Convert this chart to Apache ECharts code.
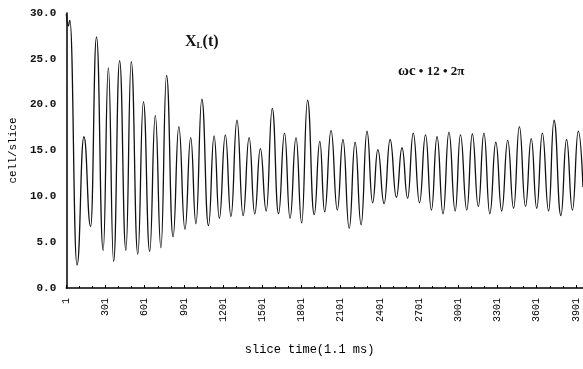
<!DOCTYPE html>
<html>
<head>
<meta charset="utf-8">
<script src="https://cdn.jsdelivr.net/npm/echarts@6/dist/echarts.min.js"></script>
<style>
  html, body { margin: 0; padding: 0; background: #fff; }
  #chart { width: 583px; height: 369px; }
</style>
</head>
<body>
<div id="chart"></div>
<script>
// peaks and troughs: slice number and cell/slice
const sliceTimes = [
  1, 16, 28, 83, 136, 187, 232, 283, 323, 363, 409, 457, 498, 548, 591, 639,
  682, 725, 768, 818, 862, 909, 953, 993, 1038, 1089, 1132, 1172, 1218, 1261,
  1307, 1354, 1400, 1443, 1486, 1531, 1577, 1625, 1671, 1713, 1759, 1802, 1847,
  1898, 1941, 1978, 2027, 2075, 2118, 2166, 2211, 2257, 2302, 2345, 2385, 2433,
  2479, 2527, 2570, 2613, 2656, 2704, 2750, 2795, 2838, 2884, 2929, 2977, 3017,
  3066, 3108, 3154, 3197, 3242, 3288, 3333, 3379, 3424, 3468, 3515, 3559, 3601,
  3644, 3692, 3733, 3786, 3829, 3874, 3919, 3955
];
const cellPerSlice = [
  29.9, 28.6, 29.2, 2.5, 16.5, 6.7, 27.4, 4.1, 24.0, 2.9, 24.8, 4.1, 24.7, 3.7, 20.3, 4.0,
  18.8, 4.4, 23.2, 5.6, 17.6, 6.4, 16.4, 7.0, 20.6, 6.8, 16.6, 7.6, 16.7, 7.8,
  18.3, 7.9, 16.4, 8.1, 15.2, 8.4, 19.6, 8.1, 16.9, 7.6, 16.4, 7.1, 20.5,
  8.0, 16.0, 8.3, 17.2, 8.5, 16.2, 6.5, 15.9, 6.9, 17.1, 9.3, 15.1, 9.2,
  16.2, 9.9, 15.3, 9.8, 16.9, 9.3, 16.7, 8.5, 16.5, 8.1, 17.0, 8.4, 16.7,
  8.5, 16.8, 8.9, 16.9, 8.1, 15.9, 8.4, 16.1, 8.7, 17.6, 8.9, 16.3, 8.7,
  16.9, 8.4, 18.3, 7.9, 16.2, 8.5, 17.1, 11.0
];
const lastSlice = 3955;

const mono = '"Liberation Mono", "DejaVu Sans Mono", monospace';
const serif = '"Liberation Serif", "DejaVu Serif", serif';

const chart = echarts.init(document.getElementById('chart'));

// axis runs on (slice - 1) so the ticks land on 1, 301, 601 ...
const points = sliceTimes.map((t, i) => [t - 1, cellPerSlice[i]]);

const option = {
  animation: false,
  grid: { left: 62, right: 0, top: 13, bottom: 81 },
  xAxis: {
    type: 'value',
    min: 0,
    max: lastSlice - 1,
    interval: 300,
    name: 'slice time(1.1 ms)',
    nameLocation: 'middle',
    nameGap: 56,
    nameTextStyle: { fontFamily: mono, fontSize: 12, color: '#000', padding: [0, 30, 0, 0] },
    axisLine: { lineStyle: { color: '#000', width: 1.5 } },
    axisTick: { inside: true, length: 3, lineStyle: { color: '#000' } },
    minorTick: { show: true, splitNumber: 3, length: 2, lineStyle: { color: '#000' } },
    splitLine: { show: false },
    axisLabel: {
      rotate: 90,
      margin: 10,
      fontFamily: mono,
      fontSize: 10,
      color: '#000',
      showMaxLabel: false,
      formatter: (v) => String(v + 1)
    }
  },
  yAxis: {
    type: 'value',
    min: 0,
    max: 30,
    interval: 5,
    name: 'cell/slice',
    nameLocation: 'middle',
    nameGap: 36,
    nameTextStyle: { fontFamily: mono, fontSize: 11, color: '#000' },
    axisLine: { show: true, lineStyle: { color: '#000', width: 1.5 } },
    axisTick: { show: false },
    splitLine: { show: false },
    axisLabel: {
      margin: 10,
      fontFamily: mono,
      fontSize: 11,
      fontWeight: 'bold',
      color: '#111',
      formatter: (v) => v.toFixed(1)
    }
  },
  graphic: [
    {
      type: 'text',
      left: 185,
      top: 34,
      style: {
        text: '{a|X}{b|L}{a|(t)}',
        rich: {
          a: { fontFamily: serif, fontSize: 16, fontWeight: 'bold', fill: '#111' },
          b: { fontFamily: serif, fontSize: 9, fontWeight: 'bold', fill: '#111', padding: [8, 0, 0, 0] }
        }
      }
    },
    {
      type: 'text',
      left: 398,
      top: 64,
      style: {
        text: '{w|ωc}{n| • 12 • 2π}',
        rich: {
          w: { fontFamily: serif, fontSize: 15, fontWeight: 'bold', fill: '#111' },
          n: { fontFamily: serif, fontSize: 13, fontWeight: 'bold', fill: '#111' }
        }
      }
    }
  ],
  series: [
    {
      type: 'line',
      data: points,
      smooth: 0.5,
      smoothMonotone: 'x',
      symbol: 'none',
      lineStyle: { color: '#111', width: 1.3 }
    }
  ]
};

chart.setOption(option);
</script>
</body>
</html>
